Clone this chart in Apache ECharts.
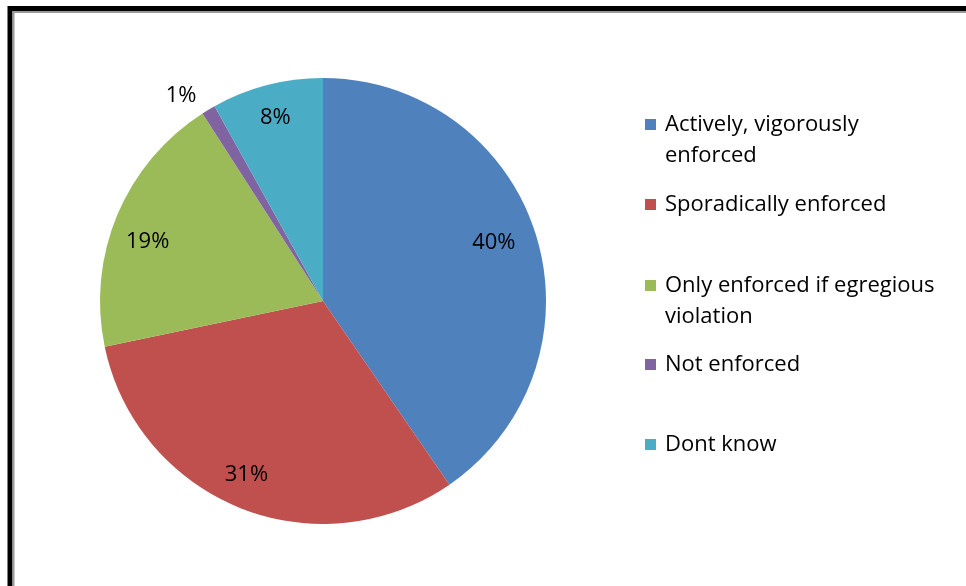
<!DOCTYPE html>
<html>
<head>
<meta charset="utf-8">
<script src="https://cdn.jsdelivr.net/npm/echarts@6/dist/echarts.min.js"></script>
<style>
  html, body { margin: 0; padding: 0; background: #fff; }
  #chart { width: 966px; height: 586px; }
</style>
</head>
<body>
<div id="chart"></div>
<script>
// Survey answers: how the policy is enforced (percent of respondents)
var categories = [
  'Actively, vigorously enforced',
  'Sporadically enforced',
  'Only enforced if egregious violation',
  'Not enforced',
  'Dont know'
];
var legendText = [
  'Actively, vigorously\nenforced',
  'Sporadically enforced',
  'Only enforced if egregious\nviolation',
  'Not enforced',
  'Dont know'
];
var values = [40, 31, 19, 1, 8];
var colors = ['#4F81BD', '#C0504D', '#9BBB59', '#8064A2', '#4BACC6'];

var FONT = '"Open Sans", Lato, sans-serif';
var CX = 323, CY = 301, R = 223;
// value label placement: distance from the centre (share of radius)
// and a small angular nudge (degrees) away from the slice middle
var labelDist = [0.81, 0.85, 0.83, 1.12, 0.85];
var labelNudge = [-1.7, 2, -4, -3.7, 0];

var total = values.reduce(function (a, b) { return a + b; }, 0);
var midAngles = [];
(function () {
  var acc = 0;
  values.forEach(function (v) {
    midAngles.push((acc + v / 2) / total * 2 * Math.PI);
    acc += v;
  });
})();

// one legend block per entry so that every entry gets the same slot height
var legendTops = [109, 189, 270, 349, 429];
var legends = categories.map(function (name, i) {
  var twoLines = legendText[i].indexOf('\n') >= 0;
  return {
    data: [name],
    orient: 'vertical',
    left: 645,
    top: twoLines ? legendTops[i] - 31 : legendTops[i],
    itemWidth: 11,
    itemHeight: 11,
    itemGap: 0,
    icon: 'rect',
    selectedMode: false,
    padding: 0,
    // a leading blank line keeps the swatch level with the first text line
    formatter: function () { return twoLines ? '\n' + legendText[i] : legendText[i]; },
    textStyle: {
      fontFamily: FONT,
      fontSize: 22,
      lineHeight: 31,
      color: '#000',
      padding: [0, 0, 0, 4]
    }
  };
});

var chart = echarts.init(document.getElementById('chart'), null, { renderer: 'canvas' });
chart.setOption({
  animation: false,
  color: colors,
  backgroundColor: '#fff',
  legend: legends,
  graphic: [
    {
      type: 'rect',
      shape: { x: 10, y: 8.5, width: 1200, height: 1200 },
      style: { fill: null, stroke: '#000', lineWidth: 5 },
      z: 10
    },
    {
      type: 'rect',
      shape: { x: 13.5, y: 12, width: 1200, height: 1200 },
      style: { fill: null, stroke: '#9a9a9a', lineWidth: 2 },
      z: 10
    }
  ],
  series: [{
    type: 'pie',
    center: [CX, CY],
    radius: [0, R],
    startAngle: 90,
    clockwise: true,
    avoidLabelOverlap: false,
    itemStyle: { borderWidth: 0 },
    emphasis: { disabled: true },
    label: {
      show: true,
      position: 'inside',
      formatter: function (p) { return p.value + '%'; },
      fontFamily: FONT,
      fontSize: 22,
      color: '#000'
    },
    labelLine: { show: false },
    labelLayout: function (p) {
      var a = midAngles[p.dataIndex] + labelNudge[p.dataIndex] * Math.PI / 180;
      var d = R * labelDist[p.dataIndex];
      return {
        x: CX + d * Math.sin(a),
        y: CY - d * Math.cos(a),
        align: 'center',
        verticalAlign: 'middle'
      };
    },
    data: categories.map(function (name, i) {
      return { name: name, value: values[i] };
    })
  }]
});
</script>
</body>
</html>
